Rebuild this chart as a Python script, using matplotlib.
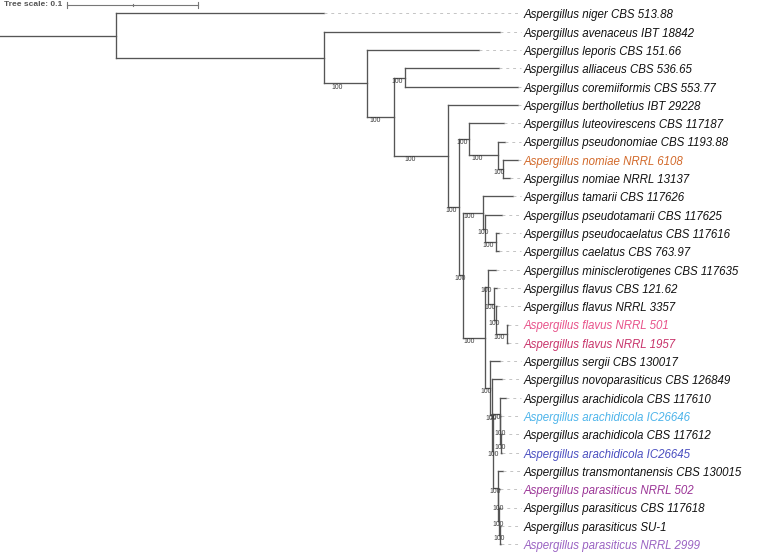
import matplotlib
matplotlib.use("Agg")
import matplotlib.pyplot as plt

# ---------------- data ----------------
TIPS = [
    "Aspergillus niger CBS 513.88",
    "Aspergillus avenaceus IBT 18842",
    "Aspergillus leporis CBS 151.66",
    "Aspergillus alliaceus CBS 536.65",
    "Aspergillus coremiiformis CBS 553.77",
    "Aspergillus bertholletius IBT 29228",
    "Aspergillus luteovirescens CBS 117187",
    "Aspergillus pseudonomiae CBS 1193.88",
    "Aspergillus nomiae NRRL 6108",
    "Aspergillus nomiae NRRL 13137",
    "Aspergillus tamarii CBS 117626",
    "Aspergillus pseudotamarii CBS 117625",
    "Aspergillus pseudocaelatus CBS 117616",
    "Aspergillus caelatus CBS 763.97",
    "Aspergillus minisclerotigenes CBS 117635",
    "Aspergillus flavus CBS 121.62",
    "Aspergillus flavus NRRL 3357",
    "Aspergillus flavus NRRL 501",
    "Aspergillus flavus NRRL 1957",
    "Aspergillus sergii CBS 130017",
    "Aspergillus novoparasiticus CBS 126849",
    "Aspergillus arachidicola CBS 117610",
    "Aspergillus arachidicola IC26646",
    "Aspergillus arachidicola CBS 117612",
    "Aspergillus arachidicola IC26645",
    "Aspergillus transmontanensis CBS 130015",
    "Aspergillus parasiticus NRRL 502",
    "Aspergillus parasiticus CBS 117618",
    "Aspergillus parasiticus SU-1",
    "Aspergillus parasiticus NRRL 2999",
]

TIP_COLORS = {
    "Aspergillus nomiae NRRL 6108": "#d2692a",
    "Aspergillus flavus NRRL 501": "#e8528a",
    "Aspergillus flavus NRRL 1957": "#c8336a",
    "Aspergillus arachidicola IC26646": "#4db4ea",
    "Aspergillus arachidicola IC26645": "#4a4fc0",
    "Aspergillus parasiticus NRRL 502": "#9b3597",
    "Aspergillus parasiticus NRRL 2999": "#9a62c2",
}

# tree topology with branch lengths (substitutions/site) and bootstrap support
NEWICK = (
    "(t0:0.1588,(t1:0.1344,(t2:0.0855,((t3:0.0718,t4:0.0863)100:0.0084,"
    "(t5:0.0534,((t6:0.0267,(t7:0.0053,(t8:0.0115,t9:0.0053)100:0.0038)100:0.0221)100:0.0076,"
    "((t10:0.0229,(t11:0.0130,(t12:0.0023,t13:0.0023)100:0.0084)100:0.0015)100:0.0153,"
    "((t14:0.0059,(t15:0.0025,(t16:0.0010,(t17:0.0008,t18:0.0008)100:0.0086)100:0.0015)100:0.0044)100:0.0025,"
    "(t19:0.0076,(t20:0.0073,((t21:0.0050,(t22:0.0011,(t23:0.0011,t24:0.0011)100:0.0004)100:0.0004)100:0.0046,"
    "(t25:0.0042,(t26:0.0011,(t27:0.0008,(t28:0.0008,t29:0.0008)100:0.0004)100:0.0004)100:0.0004)100:0.0034"
    ")100:0.0008)100:0.0019)100:0.0040)100:0.0166)100:0.0031)100:0.0084)100:0.0412)100:0.0206)100:0.0328"
    "):0.1588):0.0885;"
)

SCALE_LEN = 0.1

# ---------------- parse ----------------
class Node:
    def __init__(self):
        self.children = []
        self.name = ""
        self.length = 0.0
        self.x = 0.0
        self.y = 0.0


def parse(s):
    pos = [0]

    def read_node():
        node = Node()
        if s[pos[0]] == "(":
            pos[0] += 1
            while True:
                node.children.append(read_node())
                c = s[pos[0]]
                pos[0] += 1
                if c == ")":
                    break
        start = pos[0]
        while s[pos[0]] not in ":,);":
            pos[0] += 1
        node.name = s[start:pos[0]]
        if s[pos[0]] == ":":
            pos[0] += 1
            start = pos[0]
            while s[pos[0]] not in ",);":
                pos[0] += 1
            node.length = float(s[start:pos[0]])
        return node

    return read_node()


root = parse(NEWICK)
tips = []


def layout(node, x):
    node.x = x + node.length
    if not node.children:
        node.y = float(len(tips))
        tips.append(node)
    else:
        for c in node.children:
            layout(c, node.x)
        node.y = (node.children[0].y + node.children[-1].y) / 2


layout(root, 0.0)

# ---------------- draw ----------------
PX = 1 / 1310.0          # tree units per pixel
ROW = 18.3               # pixels per tip row
Y0 = 13.5                # pixel y of first tip
W, H = 760, 555

fig = plt.figure(figsize=(W / 100, H / 100), dpi=100)
ax = fig.add_axes([0, 0, 1, 1])
ax.axis("off")
ax.set_xlim(0, W * PX)
ax.set_ylim((H - Y0) / ROW, -Y0 / ROW)

LC = "#555555"
LW = 0.95


def draw(node, parent_x):
    ax.plot([parent_x, node.x], [node.y, node.y], color=LC, lw=LW,
            solid_capstyle="projecting")
    if node.children:
        ax.plot([node.x, node.x], [node.children[0].y, node.children[-1].y],
                color=LC, lw=LW, solid_capstyle="projecting")
        if node.name and parent_x > 0:
            bx = parent_x + 0.3 * (node.x - parent_x)
            ax.text(bx, node.y + 0.2, node.name, fontsize=4.9, color="#3a3a3a",
                    ha="center", va="center", family="Liberation Sans")
        for c in node.children:
            draw(c, node.x)


draw(root, 0.0)

DASH_END = 521 * PX
LABEL_X = 524 * PX
for t in tips:
    label = TIPS[int(t.name[1:])]
    if t.x < DASH_END:
        ax.plot([t.x, DASH_END], [t.y, t.y], color="#c4c4c4", lw=0.7,
                ls=(0, (3, 4)))
    ax.text(LABEL_X, t.y + 0.1, label, fontsize=8.3, style="italic",
            family="Liberation Sans", color=TIP_COLORS.get(label, "#111111"),
            ha="left", va="center")

# scale bar
sy = (5 - Y0) / ROW
ax.text(4 * PX, sy, "Tree scale: 0.1", fontsize=6.0, fontweight="bold",
        color="#555555", ha="left", va="center", family="Liberation Sans")
sx0 = 67 * PX
ax.plot([sx0, sx0 + SCALE_LEN], [sy, sy], color="#777777", lw=0.8)
for xx, hh in [(sx0, 0.14), (sx0 + SCALE_LEN, 0.14), (sx0 + SCALE_LEN / 2, 0.05)]:
    ax.plot([xx, xx], [sy - hh, sy + hh], color="#777777", lw=0.8)

fig.savefig("out.png", dpi=100)
